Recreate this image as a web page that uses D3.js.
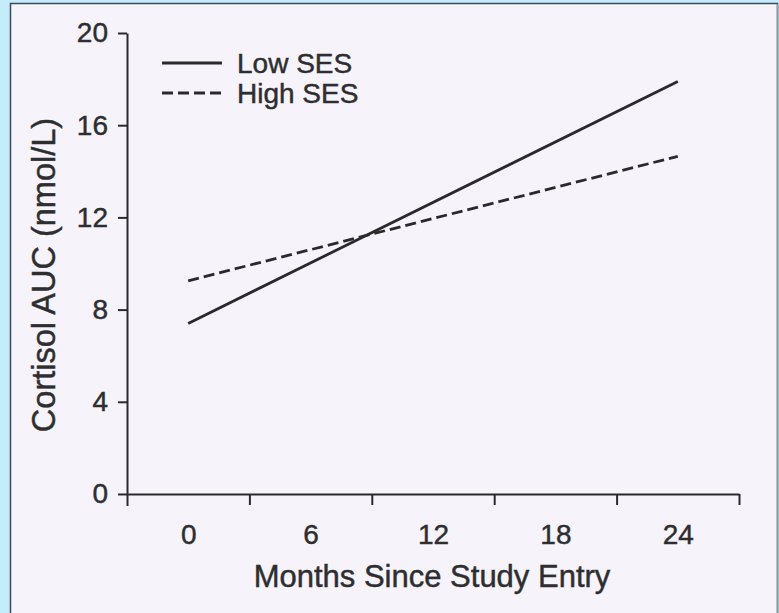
<!DOCTYPE html>
<html>
<head>
<meta charset="utf-8">
<script src="https://cdn.jsdelivr.net/npm/d3@7"></script>
<style>
  html, body { margin: 0; padding: 0; background: #c4ecfb; }
  svg { display: block; }
  text { font-family: "Liberation Sans", Arial, Helvetica, sans-serif; fill: #2e2e30; stroke: #2e2e30; stroke-width: 0.45px; }
</style>
</head>
<body>
<svg id="chart" width="779" height="613"></svg>
<script>
// ---- data ----
const months = [0, 24];
const lowSES = [7.4, 17.9];
const highSES = [9.25, 14.65];
const seriesNames = ["Low SES", "High SES"];
const xTickLabels = [0, 6, 12, 18, 24];
const xTickMarks = [3, 9, 15, 21, 27];
const yTicks = [0, 4, 8, 12, 16, 20];
const xTitle = "Months Since Study Entry";
const yTitle = "Cortisol AUC (nmol/L)";

const svg = d3.select("#chart");
const W = 779, H = 613;

// frame / page background
svg.append("rect").attr("x", 0).attr("y", 0).attr("width", W).attr("height", H).attr("fill", "#c4ecfb");
svg.append("rect").attr("x", 10.5).attr("y", 3.5).attr("width", 767).attr("height", 612)
  .attr("fill", "#f6f4fa").attr("stroke", "#3c4c58").attr("stroke-width", 1.5);
svg.append("line").attr("x1", 777.5).attr("x2", 777.5).attr("y1", 4).attr("y2", H)
  .attr("stroke", "#9a9aa4").attr("stroke-width", 1.5);

const ink = "#2a2a2c";
const fontFam = "Liberation Sans, Arial, sans-serif";

// scales
const x = d3.scaleLinear().domain([-3, 27]).range([127, 739]);
const y = d3.scaleLinear().domain([-0.5, 20]).range([505.5, 33]);

// x axis: tick marks at bin edges
const xAxisMarks = svg.append("g")
  .attr("transform", `translate(0,${y(0)})`)
  .call(d3.axisBottom(x).tickValues(xTickMarks).tickSize(11).tickSizeOuter(0).tickFormat(""));
xAxisMarks.select(".domain").attr("stroke", ink).attr("stroke-width", 2);
xAxisMarks.selectAll(".tick line").attr("stroke", ink).attr("stroke-width", 2);

// x axis labels (centred between marks)
const xAxisLabels = svg.append("g")
  .attr("transform", `translate(0,${y(0)})`)
  .attr("font-size", 28).attr("font-family", fontFam)
  .call(d3.axisBottom(x).tickValues(xTickLabels).tickSize(0).tickPadding(30));
xAxisLabels.attr("font-size", 28).attr("font-family", fontFam);
xAxisLabels.select(".domain").remove();
xAxisLabels.selectAll("text").style("fill", "#2e2e30");

// y axis
const yAxis = svg.append("g")
  .attr("transform", `translate(${x(-3)},0)`)
  .call(d3.axisLeft(y).tickValues(yTicks).tickSize(9).tickSizeOuter(0).tickPadding(10));
yAxis.attr("font-size", 28).attr("font-family", fontFam);
yAxis.select(".domain").attr("stroke", ink).attr("stroke-width", 2);
yAxis.selectAll(".tick line").attr("stroke", ink).attr("stroke-width", 2);
yAxis.selectAll("text").style("fill", "#2e2e30");

// titles
svg.append("text")
  .attr("x", 432).attr("y", 587)
  .attr("text-anchor", "middle").attr("font-size", 31)
  .text(xTitle);
svg.append("text")
  .attr("transform", "translate(55,275) rotate(-90)")
  .attr("text-anchor", "middle").attr("font-size", 32.5)
  .text(yTitle);

// lines
const line = d3.line().x(d => x(d[0])).y(d => y(d[1]));
const lowData = months.map((m, i) => [m, lowSES[i]]);
const highData = months.map((m, i) => [m, highSES[i]]);

svg.append("path").datum(lowData).attr("d", line)
  .attr("fill", "none").attr("stroke", ink).attr("stroke-width", 2.8);
svg.append("path").datum(highData).attr("d", line)
  .attr("fill", "none").attr("stroke", ink).attr("stroke-width", 2.8)
  .attr("stroke-dasharray", "11,5");

// legend
const legend = svg.append("g");
const legY = [63, 93];
const dashes = [null, "11,5"];
seriesNames.forEach((name, i) => {
  legend.append("line")
    .attr("x1", 162).attr("x2", 222).attr("y1", legY[i]).attr("y2", legY[i])
    .attr("stroke", ink).attr("stroke-width", 2.8)
    .attr("stroke-dasharray", dashes[i]);
  legend.append("text")
    .attr("x", 237).attr("y", legY[i] + 9.5)
    .attr("font-size", 28)
    .text(name);
});
</script>
</body>
</html>
